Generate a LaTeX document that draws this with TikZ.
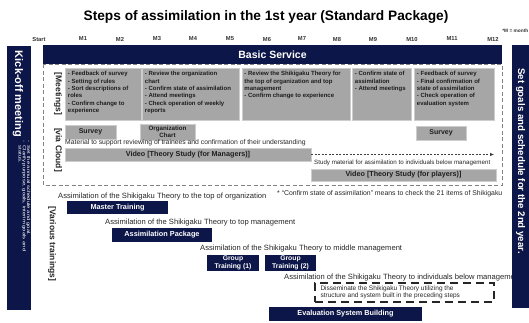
\documentclass[tikz,border=0pt]{standalone}
\usepackage{fontspec}
\setmainfont{Liberation Sans}
\newfontfamily\widef{Liberation Sans}[FakeStretch=1.35]
\usetikzlibrary{arrows.meta}
\definecolor{navy}{RGB}{13,22,72}
\definecolor{gbox}{RGB}{166,166,166}
\definecolor{gedge}{RGB}{205,205,205}
\definecolor{txt}{RGB}{30,30,30}
\definecolor{dashc}{RGB}{130,130,130}
\begin{document}
\begin{tikzpicture}[x=1pt,y=-1pt,
  navybox/.style={fill=navy, draw=none, text=white, font=\bfseries\fontsize{7.3}{7.6}\selectfont, inner sep=0pt, align=center},
  graybox/.style={fill=gbox, draw=gedge, line width=0.5pt, inner sep=0pt, align=center, text=txt, font=\bfseries\fontsize{7}{7.5}\selectfont},
  boxtext/.style={anchor=north west, inner sep=0pt, align=left, font=\bfseries\fontsize{6}{7.3}\selectfont, text=txt},
  month/.style={font=\bfseries\fontsize{5.8}{6}\selectfont, text=black!80, inner sep=0pt},
  plain/.style={anchor=west, inner sep=0pt, font=\fontsize{7.6}{8.5}\selectfont, text=black!85},
  sidelabel/.style={rotate=-90, inner sep=0pt, font=\bfseries\fontsize{8.5}{9}\selectfont, text=black!85},
]
\useasboundingbox (0,0) rectangle (529,322);
% title
\node[inner sep=0pt, font=\bfseries\fontsize{13.7}{15}\selectfont] (title) at (266,17) {Steps of assimilation in the 1st year (Standard Package)};
% months
\node[month] (mS) at (39,39) {Start};
\node[month] (m1) at (83,39) {M1};
\node[month] (m2) at (120,39) {M2};
\node[month] (m3) at (157,39) {M3};
\node[month] (m4) at (193,39) {M4};
\node[month] (m5) at (230,39) {M5};
\node[month] (m6) at (267,39) {M6};
\node[month] (m7) at (302,39) {M7};
\node[month] (m8) at (337,39) {M8};
\node[month] (m9) at (373,39) {M9};
\node[month] (m10) at (412,39) {M10};
\node[month] (m11) at (452,39) {M11};
\node[month] (m12) at (493,39) {M12};
\node[month, anchor=east, font=\bfseries\fontsize{4.8}{5}\selectfont] (mnote) at (528.5,31) {*M = month};
% dashed region
\draw[dashc, dashed, line width=0.6pt, dash pattern=on 4pt off 2.5pt] (43,64) rectangle (502,185);
% basic service bar
\node[navybox, minimum width=459, minimum height=19, font=\bfseries\fontsize{10.5}{11}\selectfont] (basic) at (272.5,54.5) {Basic Service};
% kick-off
\node[navybox, minimum width=24, minimum height=264] (kick) at (19,178) {};
\node[rotate=-90, text=white, inner sep=0pt, font=\bfseries\fontsize{11}{12}\selectfont] (kicktxt) at (18,94) {Kick-off meeting};
\node[rotate=-90, text=white, inner sep=0pt, anchor=north west, align=left, font=\widef\fontsize{4.4}{4.3}\selectfont] (kicknote) at (30.5,140) {-\ \ Set the annual schedule and goal.\\-\ \ Clarify purpose, goals, interim goals and\\\phantom{-\ \ }status.};
% meeting boxes
\node[graybox, minimum width=76, minimum height=52] (b1) at (103,94) {};
\node[graybox, minimum width=97, minimum height=52] (b2) at (190.5,94) {};
\node[graybox, minimum width=108, minimum height=52] (b3) at (296,94) {};
\node[graybox, minimum width=59, minimum height=52] (b4) at (381.5,94) {};
\node[graybox, minimum width=80, minimum height=52] (b5) at (454,94) {};
\node[boxtext] (t1) at ([shift={(3,3.5)}]b1.north west) {- Feedback of survey\\- Setting of rules\\- Sort descriptions of\\roles\\- Confirm change to\\experience};
\node[boxtext] (t2) at ([shift={(3,3.5)}]b2.north west) {- Review the organization\\chart\\- Confirm state of assimilation\\- Attend meetings\\- Check operation of weekly\\reports};
\node[boxtext] (t3) at ([shift={(2.5,3.5)}]b3.north west) {- Review the Shikigaku Theory for\\the top of organization and top\\management\\- Confirm change to experience};
\node[boxtext] (t4) at ([shift={(3,3.5)}]b4.north west) {- Confirm state of\\assimilation\\- Attend meetings};
\node[boxtext] (t5) at ([shift={(3,3.5)}]b5.north west) {- Feedback of survey\\- Final confirmation of\\state of assimilation\\- Check operation of\\evaluation system};
% side labels
\node[sidelabel] (lmeet) at (58,94) {[Meetings]};
\node[sidelabel] (lcloud) at (58,150) {[via Cloud]};
\node[sidelabel] (ltrain) at (52,244) {[Various trainings]};
% cloud items
\node[graybox, minimum width=51, minimum height=14] (survey1) at (90.5,132) {Survey};
\node[graybox, minimum width=55, minimum height=16, font=\bfseries\fontsize{6.2}{7}\selectfont] (org) at (167.5,132) {Organization\\Chart};
\node[graybox, minimum width=50, minimum height=14] (survey2) at (441,133) {Survey};
\node[plain, font=\fontsize{6.8}{7.5}\selectfont] (mat) at (65,143) {Material to support reviewing of trainees and confirmation of their understanding};
\node[graybox, minimum width=246, minimum height=13, font=\bfseries\fontsize{7.2}{7.5}\selectfont] (video1) at (188,154.5) {Video [Theory Study (for Managers)]};
\coordinate (arrend) at (494,154.5);
\draw[black!75, dashed, dash pattern=on 2pt off 1.5pt, line width=0.6pt, -{Latex[length=4pt,width=3.5pt]}] (video1.east) -- (arrend);
\node[plain, font=\fontsize{6.2}{7}\selectfont] (study) at (314,163) {Study material for assimilation to individuals below management};
\node[graybox, minimum width=185, minimum height=12, font=\bfseries\fontsize{7.2}{7.5}\selectfont] (video2) at (403.5,175) {Video [Theory Study (for players)]};
% trainings
\node[plain] (a1) at (58,197) {Assimilation of the Shikigaku Theory to the top of organization};
\node[plain, font=\fontsize{6.9}{7.5}\selectfont] (note) at (277,194) {* ``Confirm state of assimilation'' means to check the 21 items of Shikigaku};
\node[navybox, minimum width=101, minimum height=13] (master) at (117.5,207.5) {Master Training};
\node[plain] (a2) at (105,223) {Assimilation of the Shikigaku Theory to top management};
\node[navybox, minimum width=100, minimum height=14] (pkg) at (162,235) {Assimilation Package};
\node[plain] (a3) at (200,249) {Assimilation of the Shikigaku Theory to middle management};
\node[navybox, minimum width=52, minimum height=16, font=\bfseries\fontsize{6.8}{7.6}\selectfont] (gt1) at (233,263) {Group\\Training (1)};
\node[navybox, minimum width=51, minimum height=16, font=\bfseries\fontsize{6.8}{7.6}\selectfont] (gt2) at (290.5,263) {Group\\Training (2)};
\node[plain] (a4) at (284,278) {Assimilation of the Shikigaku Theory to individuals below management};
\node[draw=black!85, line width=1.3pt, dash pattern=on 8pt off 5pt, minimum width=179, minimum height=19, inner sep=0pt] (diss) at (404.5,292.5) {};
\node[plain, align=left, font=\fontsize{6.5}{7.3}\selectfont] (disstxt) at ([xshift=6pt]diss.west) {Disseminate the Shikigaku Theory utilizing the\\structure and system built in the preceding steps};
\node[navybox, minimum width=153, minimum height=14] (eval) at (345.5,314) {Evaluation System Building};
% right box
\node[navybox, minimum width=17, minimum height=263] (right) at (520.5,176.5) {};
\node[rotate=-90, text=white, inner sep=0pt, font=\bfseries\fontsize{9.7}{11}\selectfont] (righttxt) at (520.5,161) {Set goals and schedule for the 2nd year.};
\end{tikzpicture}
\end{document}
